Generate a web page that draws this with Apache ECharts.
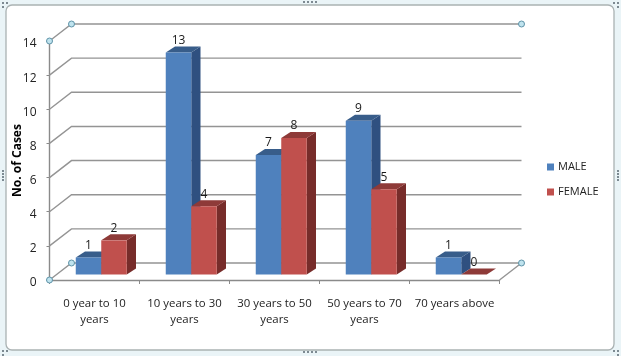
<!DOCTYPE html>
<html>
<head>
<meta charset="utf-8">
<style>html,body{margin:0;padding:0;background:#fff}#c{width:621px;height:361px}</style>
<script src="https://cdn.jsdelivr.net/npm/echarts@6/dist/echarts.min.js"></script>
</head>
<body>
<div id="c"></div>
<script>
const categories = ['0 year to 10\nyears', '10 years to 30\nyears', '30 years to 50\nyears', '50 years to 70\nyears', '70 years above'];
const male = [1, 13, 7, 9, 1];
const female = [2, 4, 8, 5, 0];
const yTicks = [0, 2, 4, 6, 8, 10, 12, 14];

const WALL = [22, -17], NEAR = [6.75, -5.5], FAR = [16, -11.5];
const FONT = '"Open Sans", sans-serif';
const chart = echarts.init(document.getElementById('c'), null, {renderer: 'canvas'});

function bar(side, front, top, right) {
  return function (params, api) {
    const v = api.value(1);
    const base = api.coord([api.value(0), 0]);
    const topPt = api.coord([api.value(0), v]);
    const w = api.size([1, 0])[0] * 25.5 / 90;
    const x0 = base[0] + NEAR[0] + (side === 0 ? -w : 0), x1 = x0 + w;
    const yb = base[1] + NEAR[1], yt = topPt[1] + NEAR[1];
    const ddx = FAR[0] - NEAR[0], ddy = FAR[1] - NEAR[1];
    const poly = (pts, fill) => ({type: 'polygon', shape: {points: pts}, style: {fill: fill}});
    return {type: 'group', children: [
      poly([[x1, yb], [x1 + ddx, yb + ddy], [x1 + ddx, yt + ddy], [x1, yt]], right),
      poly([[x0, yt], [x1, yt], [x1 + ddx, yt + ddy], [x0 + ddx, yt + ddy]], top),
      poly([[x0, yb], [x1, yb], [x1, yt], [x0, yt]], front),
      {type: 'text', style: {text: String(v), x: (x0 + x1) / 2, y: yt - 12, align: 'center', verticalAlign: 'middle', fill: '#1a1a1a', font: '12px ' + FONT}}
    ]};
  };
}

function walls(params, api) {
  const val = api.value(0);
  const l = api.coord([0, val]), r = api.coord([categories.length - 1, val]);
  const band = api.size([1, 0])[0];
  const xl = l[0] - band / 2, xr = r[0] + band / 2, y = l[1];
  const stroke = {stroke: '#949494', lineWidth: 1.4, fill: null};
  const kids = [{type: 'polyline', shape: {points: [[xl, y], [xl + WALL[0], y + WALL[1]], [xr + WALL[0], y + WALL[1]]]}, style: stroke}];
  if (val === 0) kids.push({type: 'line', shape: {x1: xr, y1: y, x2: xr + WALL[0], y2: y + WALL[1]}, style: stroke});
  return {type: 'group', children: kids};
}

function handles(params, api) {
  const val = api.value(0);
  const l = api.coord([0, val]), r = api.coord([categories.length - 1, val]);
  const band = api.size([1, 0])[0];
  const xl = l[0] - band / 2, xr = r[0] + band / 2, y = l[1];
  const dot = (x, yy) => ({type: 'circle', shape: {cx: x, cy: yy, r: 3}, style: {fill: '#bfe3ee', stroke: '#5f93a8', lineWidth: 1}});
  return {type: 'group', children: [dot(xl, y), dot(xl + WALL[0], y + WALL[1]), dot(xr + WALL[0], y + WALL[1])]};
}

const dots = [];
function addDots(x, y, dx, dy, n) {
  for (let i = 0; i < n; i++) dots.push({type: 'rect', shape: {x: x + i * dx, y: y + i * dy, width: 2, height: 2}, style: {fill: '#7d8a92'}, silent: true});
}
addDots(303, 1, 4, 0, 4); addDots(303, 351, 4, 0, 4);
addDots(2, 170, 0, 3, 4); addDots(617, 170, 0, 3, 4);
addDots(2, 2, 4, 0, 2); addDots(2, 6, 0, 3, 1);
addDots(613, 2, 4, 0, 2); addDots(617, 6, 0, 3, 1);
addDots(2, 350, 4, 0, 2); addDots(2, 354, 0, 3, 1);
addDots(613, 350, 4, 0, 2); addDots(617, 354, 0, 3, 1);

chart.setOption({
  animation: false,
  backgroundColor: '#fff',
  graphic: [
    {type: 'rect', z: -10, silent: true, shape: {x: 0, y: 0, width: 621, height: 356}, style: {fill: '#eaf4f7'}},
    {type: 'rect', z: -9, silent: true, shape: {x: 6, y: 5, width: 608, height: 345, r: 6}, style: {fill: '#fff', stroke: '#aab2b3', lineWidth: 1.3}},
    {type: 'group', z: -8, silent: true, children: dots}
  ],
  grid: {left: 49.5, right: 121.5, top: 41, bottom: 81, containLabel: false, outerBoundsMode: 'none'},
  legend: {
    data: ['MALE', 'FEMALE'], orient: 'vertical', left: 542, top: 154, itemWidth: 7, itemHeight: 7, itemGap: 9, icon: 'rect',
    textStyle: {fontFamily: FONT, fontSize: 11, color: '#222', padding: [0, 0, 0, -1], lineHeight: 16}
  },
  xAxis: {
    type: 'category', data: categories, boundaryGap: true,
    axisLine: {lineStyle: {color: '#8a8a8a', width: 1.4}},
    axisTick: {show: true, length: 4, lineStyle: {color: '#8a8a8a'}},
    axisLabel: {interval: 0, color: '#222', fontFamily: FONT, fontSize: 11.4, lineHeight: 16, margin: 16, hideOverlap: false},
    splitLine: {show: false}
  },
  yAxis: {
    type: 'value', min: 0, max: 14, interval: 2,
    name: 'No. of Cases', nameLocation: 'middle', nameGap: 26, nameRotate: 90, nameMoveOverlap: false,
    nameTextStyle: {fontFamily: FONT, fontSize: 12, fontWeight: 'bold', color: '#000'},
    axisLine: {show: true, lineStyle: {color: '#8a8a8a', width: 1.4}},
    axisTick: {show: true, length: 3, lineStyle: {color: '#8a8a8a'}},
    axisLabel: {margin: 13, formatter: '{v|{value}}', rich: {v: {color: '#222', fontFamily: FONT, fontSize: 12, padding: [6, 0, 0, 0], lineHeight: 16}}},
    splitLine: {show: false}
  },
  series: [
    {type: 'custom', name: 'walls', silent: true, clip: false, z: 1, coordinateSystem: 'cartesian2d', renderItem: walls, encode: {y: 0}, data: yTicks.map(v => [v]), tooltip: {show: false}},
    {type: 'custom', name: 'MALE', clip: false, z: 2, itemStyle: {color: '#4F81BD'}, renderItem: bar(0, '#4F81BD', '#385D8A', '#2F5080'), encode: {x: 0, y: 1}, data: male.map((v, i) => [i, v])},
    {type: 'custom', name: 'FEMALE', clip: false, z: 3, itemStyle: {color: '#C0504D'}, renderItem: bar(1, '#C0504D', '#8E3A38', '#772C2A'), encode: {x: 0, y: 1}, data: female.map((v, i) => [i, v])},
    {type: 'custom', name: 'handles', silent: true, clip: false, z: 4, renderItem: handles, encode: {y: 0}, data: [[0], [14]].map(a => a)}
  ]
});
</script>
</body>
</html>
